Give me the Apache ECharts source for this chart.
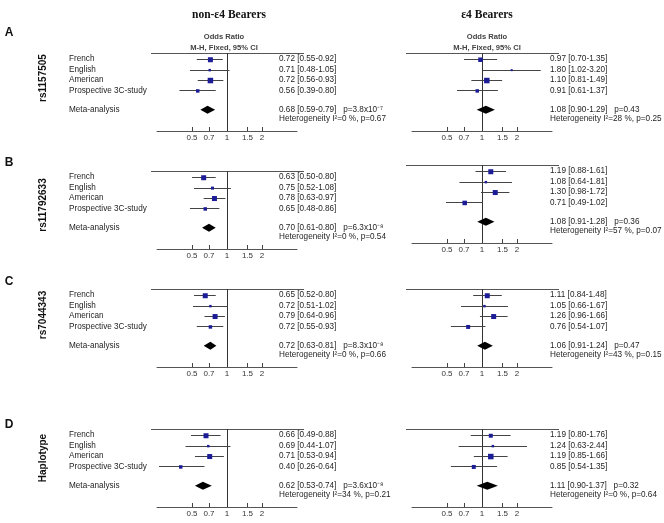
<!DOCTYPE html>
<html><head><meta charset="utf-8">
<script src="https://cdn.jsdelivr.net/npm/echarts@6/dist/echarts.min.js"></script>
<style>html,body{margin:0;padding:0;background:#fff}#c{width:664px;height:523px}</style>
</head><body><div id="c"></div>
<script>
// ---------------- DATA ----------------
const studies = ['French', 'English', 'American', 'Prospective 3C-study'];
const pooledLabel = 'Meta-analysis';
const markers = ['rs1157505', 'rs11792633', 'rs7044343', 'Haplotype'];
const panelLetters = ['A', 'B', 'C', 'D'];
const groupTitles = ['non-ε4 Bearers', 'ε4 Bearers'];
const headerLines = ['Odds Ratio', 'M-H, Fixed, 95% CI'];
const tickValues = [0.5, 0.7, 1, 1.5, 2];

// non-ε4 bearers: per panel (A..D), per study
const nonE4_OR   = [[0.72, 0.71, 0.72, 0.56], [0.63, 0.75, 0.78, 0.65], [0.65, 0.72, 0.79, 0.72], [0.66, 0.69, 0.71, 0.40]];
const nonE4_Low  = [[0.55, 0.48, 0.56, 0.39], [0.50, 0.52, 0.63, 0.48], [0.52, 0.51, 0.64, 0.55], [0.49, 0.44, 0.53, 0.26]];
const nonE4_High = [[0.92, 1.05, 0.93, 0.80], [0.80, 1.08, 0.97, 0.86], [0.80, 1.02, 0.96, 0.93], [0.88, 1.07, 0.94, 0.64]];
const nonE4_Weight = [[33, 8, 40, 16], [33, 12, 33, 16], [33, 8, 33, 16], [33, 8, 33, 16]];
const nonE4_PooledOR   = [0.68, 0.70, 0.72, 0.62];
const nonE4_PooledLow  = [0.59, 0.61, 0.63, 0.53];
const nonE4_PooledHigh = [0.79, 0.80, 0.81, 0.74];
const nonE4_PooledP    = [3.8e-7, 6.3e-8, 8.3e-8, 3.6e-8];
const nonE4_I2   = [0, 0, 0, 34];
const nonE4_HetP = [0.67, 0.54, 0.66, 0.21];

// ε4 bearers
const e4_OR   = [[0.97, 1.80, 1.10, 0.91], [1.19, 1.08, 1.30, 0.71], [1.11, 1.05, 1.26, 0.76], [1.19, 1.24, 1.19, 0.85]];
const e4_Low  = [[0.70, 1.02, 0.81, 0.61], [0.88, 0.64, 0.98, 0.49], [0.84, 0.66, 0.96, 0.54], [0.80, 0.63, 0.85, 0.54]];
const e4_High = [[1.35, 3.20, 1.49, 1.37], [1.61, 1.81, 1.72, 1.02], [1.48, 1.67, 1.66, 1.07], [1.76, 2.44, 1.66, 1.35]];
const e4_Weight = [[27, 5, 40, 16], [33, 8, 33, 27], [33, 8, 33, 21], [21, 8, 40, 21]];
const e4_PooledOR   = [1.08, 1.08, 1.06, 1.11];
const e4_PooledLow  = [0.90, 0.91, 0.91, 0.90];
const e4_PooledHigh = [1.29, 1.28, 1.24, 1.37];
const e4_PooledP    = [0.43, 0.36, 0.47, 0.32];
const e4_I2   = [28, 57, 43, 0];
const e4_HetP = [0.25, 0.07, 0.15, 0.64];

// ---------------- LAYOUT ----------------
const FONT = "'Liberation Sans', Arial, sans-serif";
const TXT = '#1e1e1e';
const gridLeft = [157, 412];
const gridWidth = 140;
const panelTop = [[53, 53], [171, 165], [289, 289], [429, 429]];
const panelH = 78;
const valueX = [279, 550];
const studyX = 69;
const pooledRow = 4.85;

const groups = [
  {OR: nonE4_OR, L: nonE4_Low, H: nonE4_High, W: nonE4_Weight, pOR: nonE4_PooledOR, pL: nonE4_PooledLow, pH: nonE4_PooledHigh, pP: nonE4_PooledP, I2: nonE4_I2, hP: nonE4_HetP},
  {OR: e4_OR, L: e4_Low, H: e4_High, W: e4_Weight, pOR: e4_PooledOR, pL: e4_PooledLow, pH: e4_PooledHigh, pP: e4_PooledP, I2: e4_I2, hP: e4_HetP}
];

const supMap = {'-': '⁻', '0': '⁰', '1': '¹', '2': '²', '3': '³', '4': '⁴', '5': '⁵', '6': '⁶', '7': '⁷', '8': '⁸', '9': '⁹'};
function fmtCI(o, l, h) { return o.toFixed(2) + ' [' + l.toFixed(2) + '-' + h.toFixed(2) + ']'; }
function fmtP(p) {
  if (p < 0.001) {
    const e = Math.floor(Math.log10(p));
    const m = p / Math.pow(10, e);
    return 'p=' + m.toFixed(1) + 'x10' + String(e).split('').map(ch => supMap[ch]).join('');
  }
  return 'p=' + p.toFixed(2);
}
const crisp = v => Math.round(v) + 0.5;

function makeRender(side, pi) {
  const g = groups[side];
  return function (params, api) {
    const i = params.dataIndex;
    const cs = params.coordSys;
    const row = api.value(0), or = api.value(1), lo = api.value(2), hi = api.value(3), w = api.value(4), kind = api.value(5);
    const c = api.coord([Math.log10(or), row]);
    const l = api.coord([Math.log10(lo), row]);
    const h = api.coord([Math.log10(hi), row]);
    const ch = [];
    if (i === 0) {
      const ty = crisp(cs.y);
      ch.push({type: 'line', shape: {x1: cs.x - 6, y1: ty, x2: cs.x + cs.width + 7, y2: ty}, style: {stroke: '#555', lineWidth: 1}});
      const one = crisp(api.coord([0, 0])[0]);
      ch.push({type: 'line', shape: {x1: one, y1: cs.y, x2: one, y2: cs.y + cs.height}, style: {stroke: '#333', lineWidth: 1}});
    }
    const cy = c[1];
    const textStyle = (t) => ({text: t, fill: TXT, fontSize: 8.2, fontFamily: FONT, align: 'left', verticalAlign: 'middle'});
    if (kind === 0) {
      ch.push({type: 'line', shape: {x1: l[0], y1: crisp(cy), x2: h[0], y2: crisp(cy)}, style: {stroke: '#444', lineWidth: 1}});
      const s = Math.max(2, 0.87 * Math.sqrt(w));
      ch.push({type: 'rect', shape: {x: c[0] - s / 2, y: cy - s / 2 + 0.5, width: s, height: s}, style: {fill: '#1c1c96'}});
      ch.push({type: 'text', x: valueX[side], y: cy, style: textStyle(fmtCI(or, lo, hi))});
      if (side === 0) ch.push({type: 'text', x: studyX, y: cy, style: textStyle(studies[i])});
    } else {
      ch.push({type: 'polygon', shape: {points: [[l[0], cy], [c[0], cy - 4], [h[0], cy], [c[0], cy + 4]]}, style: {fill: '#000'}});
      ch.push({type: 'text', x: valueX[side], y: cy, style: textStyle(fmtCI(or, lo, hi) + '   ' + fmtP(g.pP[pi]))});
      const hy = api.coord([0, row + 0.85])[1];
      ch.push({type: 'text', x: valueX[side], y: hy, style: textStyle('Heterogeneity I²=' + g.I2[pi] + ' %, p=' + g.hP[pi].toFixed(2))});
      if (side === 0) ch.push({type: 'text', x: studyX, y: cy, style: textStyle(pooledLabel)});
    }
    return {type: 'group', children: ch};
  };
}

const grids = [], xAxes = [], yAxes = [], series = [];
const tickLog = tickValues.map(v => Math.log10(v));
for (let pi = 0; pi < 4; pi++) {
  for (let side = 0; side < 2; side++) {
    const k = grids.length;
    grids.push({left: gridLeft[side], width: gridWidth, top: panelTop[pi][side], height: panelH});
    xAxes.push({
      type: 'value', gridIndex: k, min: Math.log10(0.25), max: Math.log10(4), position: 'bottom',
      axisLine: {show: true, onZero: false, lineStyle: {color: '#555', width: 1}},
      axisTick: {show: true, inside: true, length: 4, customValues: tickLog, lineStyle: {color: '#444'}},
      axisLabel: {show: true, customValues: tickLog, margin: 3, fontSize: 8, color: '#333', fontFamily: FONT,
        formatter: v => String(Number(Math.pow(10, v).toPrecision(2)))},
      splitLine: {show: false}
    });
    yAxes.push({type: 'value', gridIndex: k, min: -0.6, max: 6.9, inverse: true, show: false});
    const g = groups[side];
    const data = [];
    for (let s = 0; s < studies.length; s++) data.push([s, g.OR[pi][s], g.L[pi][s], g.H[pi][s], g.W[pi][s], 0]);
    data.push([pooledRow, g.pOR[pi], g.pL[pi], g.pH[pi], 0, 1]);
    series.push({
      type: 'custom', coordinateSystem: 'cartesian2d', xAxisIndex: k, yAxisIndex: k, clip: false, silent: true,
      encode: {x: 1, y: 0}, data: data, renderItem: makeRender(side, pi)
    });
  }
}

const graphic = [];
const titleX = [229, 487];
groupTitles.forEach((t, s) => graphic.push({type: 'text', x: titleX[s], y: 15,
  style: {text: t, fill: '#111', fontSize: 11.5, fontWeight: 'bold', fontFamily: "'Liberation Serif', 'Times New Roman', serif", align: 'center', verticalAlign: 'middle'}}));
const headerX = [224, 487];
headerX.forEach(hx => headerLines.forEach((t, j) => graphic.push({type: 'text', x: hx, y: 37 + j * 11,
  style: {text: t, fill: '#444', fontSize: 7.6, fontWeight: 'bold', fontFamily: FONT, align: 'center', verticalAlign: 'middle'}})));
const letterY = [33, 163, 282, 425];
const markerY = [78, 205, 315, 458];
for (let pi = 0; pi < 4; pi++) {
  graphic.push({type: 'text', x: 9, y: letterY[pi],
    style: {text: panelLetters[pi], fill: '#111', fontSize: 12, fontWeight: 'bold', fontFamily: FONT, align: 'center', verticalAlign: 'middle'}});
  graphic.push({type: 'text', x: 43, y: markerY[pi], rotation: Math.PI / 2,
    style: {text: markers[pi], fill: '#111', fontSize: 10, fontWeight: 'bold', fontFamily: FONT, align: 'center', verticalAlign: 'middle'}});
}

const chart = echarts.init(document.getElementById('c'), null, {renderer: 'canvas'});
chart.setOption({
  animation: false,
  backgroundColor: '#fff',
  grid: grids, xAxis: xAxes, yAxis: yAxes, series: series, graphic: graphic
});
</script></body></html>
